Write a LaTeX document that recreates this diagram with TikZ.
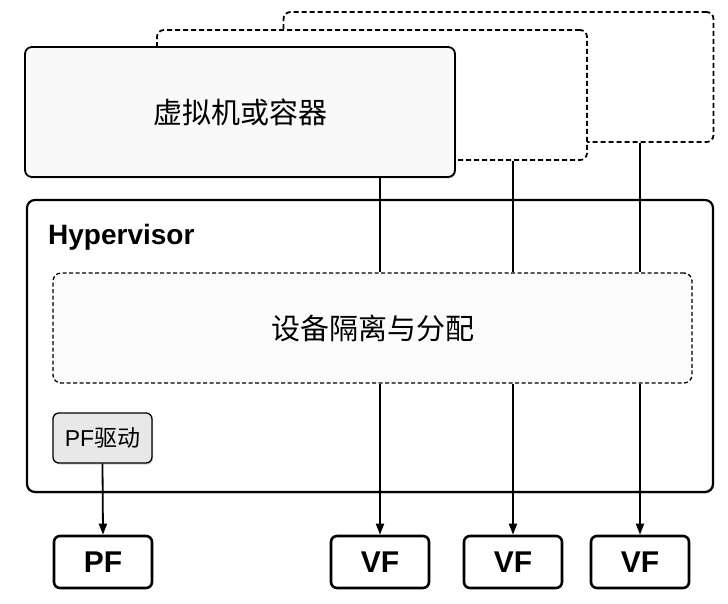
\documentclass[tikz,border=0pt]{standalone}
\usepackage{fontspec}
\setmainfont{Liberation Sans}
\newfontfamily\cjk{Noto Sans CJK SC}
\usetikzlibrary{arrows.meta,shadows}

\begin{document}
\begin{tikzpicture}[x=1pt, y=-1pt, line join=round, >={Triangle[length=11pt,width=8pt]},
	vmbox/.style={draw, rounded corners=7pt, line width=1.8pt, minimum width=430pt, minimum height=130pt, inner sep=0pt},
	ghost/.style={vmbox, fill=white, dash pattern=on 5pt off 3pt},
	fnbox/.style={draw, rounded corners=6pt, line width=2.6pt, fill=white, minimum width=98pt, minimum height=52pt, inner sep=0pt, font=\bfseries\fontsize{30}{30}\selectfont},
	soft/.style={drop shadow={shadow xshift=1pt, shadow yshift=-1.5pt, opacity=0.35}},
	link/.style={line width=1.8pt}]
	\useasboundingbox (0,0) rectangle (728,604);
	% virtual machines, back to front
	\node[ghost] (vmc) at (498.5,77) {};
	\node[ghost] (vmb) at (372,95) {};
	\node[vmbox, fill=gray!5, soft, font=\cjk\fontsize{29}{29}\selectfont] (vma) at (240,112) {虚拟机或容器};
	% hypervisor
	\node[draw, rounded corners=8pt, line width=2.2pt, fill=white, soft, minimum width=686pt, minimum height=292pt] (hyp) at (370,346) {};
	\node[anchor=west, inner sep=0pt, font=\bfseries\fontsize{28}{28}\selectfont] (hyplabel) at (48,237) {Hypervisor};
	\node[draw, rounded corners=8pt, line width=1.3pt, dash pattern=on 4pt off 2.5pt, fill=gray!3, minimum width=639pt, minimum height=110pt, font=\cjk\fontsize{29}{29}\selectfont] (alloc) at (372.5,328) {设备隔离与分配};
	\node[draw, rounded corners=6pt, line width=1.3pt, fill=gray!18, soft, minimum width=99pt, minimum height=50pt, inner sep=0pt, font=\fontsize{23}{23}\selectfont] (pfdrv) at (102.5,438) {PF{\cjk 驱动}};
	% functions
	\node[fnbox] (pf) at (103,562) {PF};
	\node[fnbox] (vf1) at (380,562) {VF};
	\node[fnbox] (vf2) at (513,562) {VF};
	\node[fnbox] (vf3) at (640,562) {VF};
	% links
	\draw[link] (vma.south -| vf1.north) -- (alloc.north -| vf1.north);
	\draw[link] (vmb.south -| vf2.north) -- (alloc.north -| vf2.north);
	\draw[link] (vmc.south -| vf3.north) -- (alloc.north -| vf3.north);
	\draw[link, ->] (alloc.south -| vf1.north) -- (vf1.north);
	\draw[link, ->] (alloc.south -| vf2.north) -- (vf2.north);
	\draw[link, ->] (alloc.south -| vf3.north) -- (vf3.north);
	\draw[link, ->] (pfdrv.south) -- (pf.north);
\end{tikzpicture}
\end{document}
